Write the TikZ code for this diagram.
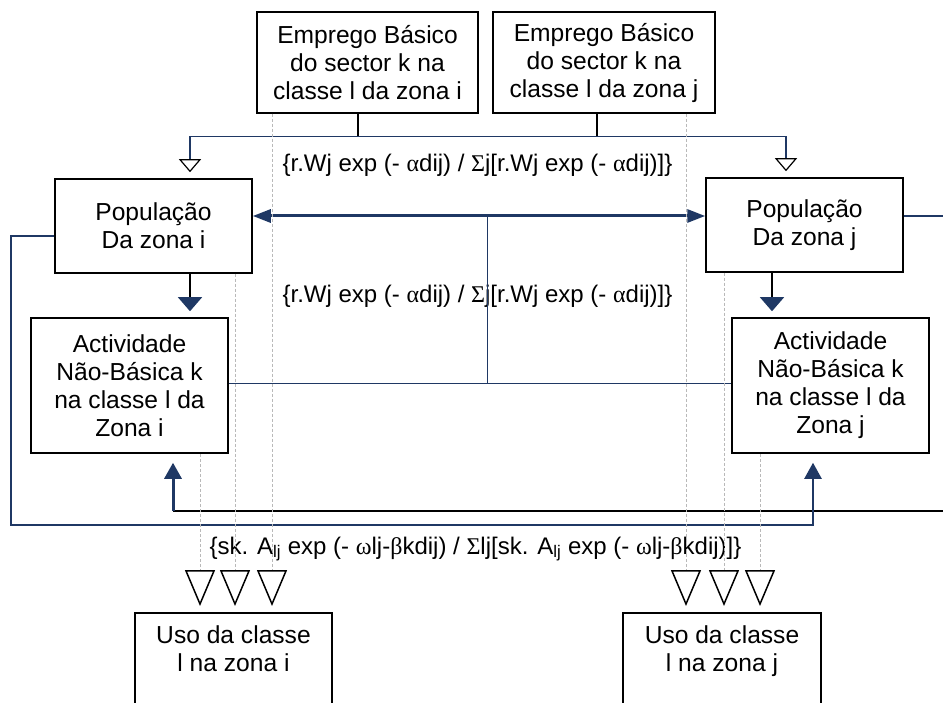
\documentclass[tikz,border=0pt]{standalone}
\usepackage{fontspec}
\setmainfont{Liberation Sans}
\newfontfamily\grega{Liberation Serif}
\usepackage{xcolor}
\usepackage{tikz}
\usetikzlibrary{arrows.meta}
\definecolor{azul}{RGB}{31,56,100}

\tikzset{
	caixa/.style={draw, line width=1.5pt, align=center, font=\fontsize{24.6}{28}\selectfont},
	rotulo/.style={font=\fontsize{24}{28}\selectfont},
	fino/.style={azul, line width=1.2pt},
	pretofino/.style={black, line width=1.2pt},
	media/.style={azul, line width=2.2pt},
	grossa/.style={azul, line width=3pt},
	preta/.style={black, line width=2pt},
	aberta/.style={-{Triangle[open, width=22pt, length=13pt, line width=1.2pt, color=black]}, shorten >=6pt},
	cheia/.style={-{Triangle[width=24pt, length=14pt, color=azul]}, shorten >=6pt},
	dupla/.style={{Triangle[width=13pt, length=18pt]}-{Triangle[width=13pt, length=18pt]}},
	sobe/.style={-{Triangle[width=17pt, length=16pt]}, shorten >=9pt},
	tracejado/.style={gray!55, line width=0.9pt, dash pattern=on 3pt off 2pt,
		-{Triangle[open, width=30pt, length=36pt, line width=1.5pt, color=black]}, shorten >=6pt}
}

\begin{document}
\begin{tikzpicture}[x=1pt, y=-1pt]
	\useasboundingbox (0,0) rectangle (943,703);

	% Caixas
	\node[caixa, minimum width=221pt, minimum height=101pt] (empi) at (367.5,62.5) {Emprego Básico\\do sector k na\\classe l da zona i};
	\node[caixa, minimum width=222pt, minimum height=101pt] (empj) at (604,62.5) {Emprego Básico\\do sector k na\\classe l da zona j};
	\node[caixa, minimum width=197pt, minimum height=94pt] (popi) at (153.5,226) {População\\Da zona i};
	\node[caixa, minimum width=197pt, minimum height=94pt] (popj) at (804.5,225) {População\\Da zona j};
	\node[caixa, minimum width=197pt, minimum height=135pt] (acti) at (129.5,385.5) {Actividade\\Não-Básica k\\na classe l da\\Zona i};
	\node[caixa, minimum width=197pt, minimum height=135pt] (actj) at (830.5,385.5) {Actividade\\Não-Básica k\\na classe l da\\Zona j};
	\node[caixa, minimum width=197pt, minimum height=130pt, anchor=north] (usoi) at (233.5,612) {};
	\node[caixa, minimum width=198pt, minimum height=130pt, anchor=north] (usoj) at (722,612) {};
	\node[caixa, draw=none, anchor=north] (tusoi) at ([yshift=-10pt]usoi.north) {Uso da classe\\l na zona i};
	\node[caixa, draw=none, anchor=north] (tusoj) at ([yshift=-10pt]usoj.north) {Uso da classe\\l na zona j};

	% Formulas
	\node[rotulo] (f1) at (477.5,165) {\{r.Wj exp (- {\grega α}dij) / {\grega Σ}j[r.Wj exp (- {\grega α}dij)]\}};
	\node[rotulo] (f2) at (477.5,296) {\{r.Wj exp (- {\grega α}dij) / {\grega Σ}j[r.Wj exp (- {\grega α}dij)]\}};
	\node[rotulo] (f3) at (475.5,549) {\{sk. A\textsubscript{lj} exp (- {\grega ω}lj-{\grega β}kdij) / {\grega Σ}lj[sk. A\textsubscript{lj} exp (- {\grega ω}lj-{\grega β}kdij)]\}};

	% Emprego -> Populacao
	\draw[pretofino] ([xshift=-9.5pt]empi.south) -- ++(0,23) coordinate (bi);
	\draw[pretofino] ([xshift=-7pt]empj.south) -- ++(0,23) coordinate (bj);
	\draw[fino] (bi) -- (bj);
	\draw[fino, aberta] (bi) -| ([xshift=36.5pt]popi.north);
	\draw[fino, aberta] (bj) -| ([xshift=-18.5pt]popj.north);

	% Populacao -> Actividade
	\draw[pretofino, cheia] ([xshift=36.5pt]popi.south) -- ([xshift=36.5pt]popi.south |- acti.north);
	\draw[pretofino, cheia] ([xshift=-32.5pt]popj.south) -- ([xshift=-32.5pt]popj.south |- actj.north);

	% Entre zonas
	\draw[grossa, dupla] ([yshift=10pt]popi.east) -- coordinate[pos=0.5176] (m) ([yshift=10pt]popi.east -| popj.west);
	\coordinate (h) at ([yshift=2.5pt]acti.east);
	\draw[fino, line width=0.9pt] (h) -- (h -| actj.west);
	\draw[fino, line width=0.9pt] (m) -- (m |- h);

	% Retornos
	\coordinate (d1) at (943,216);
	\coordinate (d2) at (943,511);
	\coordinate (canto) at (11,525);
	\draw[fino] ([yshift=9pt]popj.east) -- (d1);
	\draw[preta] (d2) -- ([xshift=43.5pt]acti.south |- d2) coordinate (c2);
	\draw[grossa, sobe] (c2) -- ([xshift=43.5pt]acti.south);
	\draw[media, sobe] ([yshift=-10pt]popi.west) -| (canto) -| ([xshift=-17.5pt]actj.south);

	% Uso do solo
	\foreach \orig/\dx in {empi/-95.5, popi/81.5, acti/70.5}
		{
			\draw[tracejado] ([xshift=\dx pt]\orig.south) -- ([xshift=\dx pt]\orig.south |- usoi.north);
		}
	\foreach \orig/\dx in {empj/82, popj/-80.5, actj/-70.5}
		{
			\draw[tracejado] ([xshift=\dx pt]\orig.south) -- ([xshift=\dx pt]\orig.south |- usoj.north);
		}

\end{tikzpicture}
\end{document}
